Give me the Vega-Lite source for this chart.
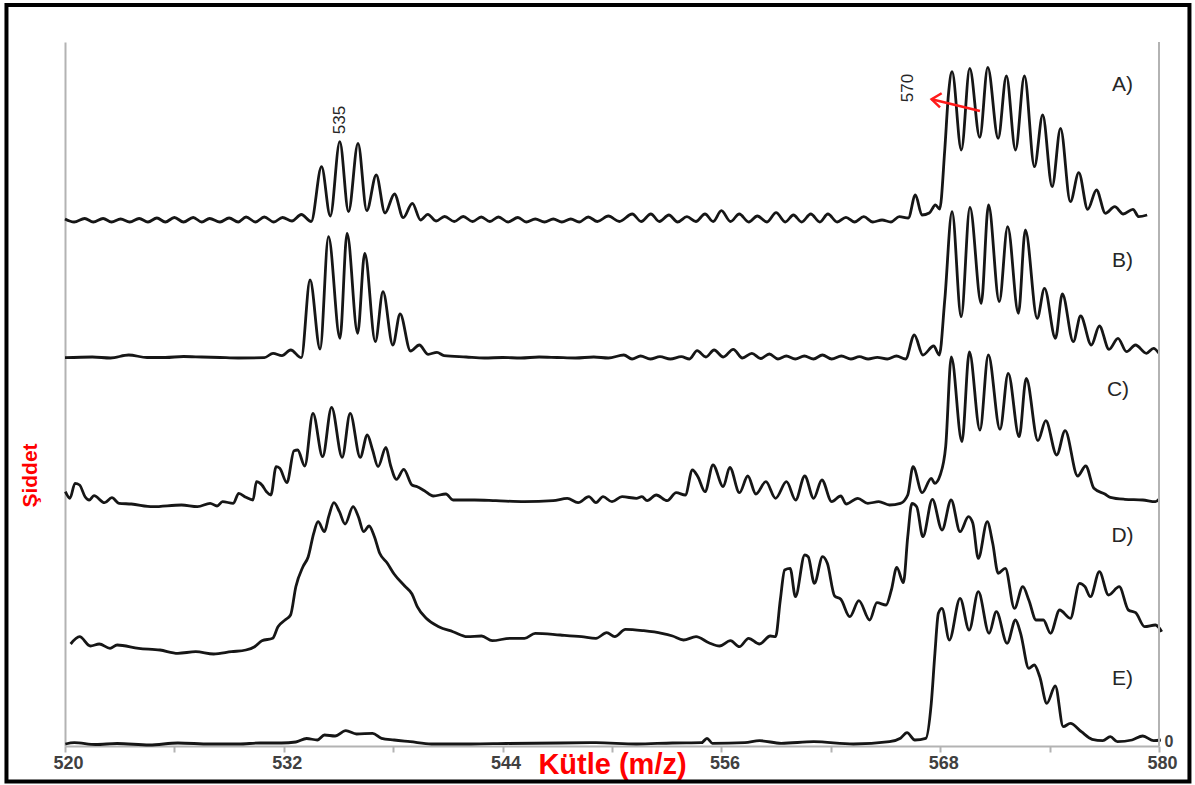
{
"$schema": "https://vega.github.io/schema/vega-lite/v6.json",
"width": 1094, "height": 704,
"autosize": {"type": "none"},
"padding": {"left": 65, "top": 42, "right": 36, "bottom": 39},
"background": "white",
"config": {"view": {"stroke": null}, "font": "Liberation Sans"},
"datasets": {
"spectra": [
{"s":"A","x":520.0,"y":527},{"s":"A","x":520.5,"y":524},{"s":"A","x":521.08,"y":527.5},{"s":"A","x":521.55,"y":524},{"s":"A","x":522.09,"y":527.5},{"s":"A","x":522.55,"y":524},{"s":"A","x":523.05,"y":527},{"s":"A","x":523.55,"y":524},{"s":"A","x":524.07,"y":527.5},{"s":"A","x":524.55,"y":524},{"s":"A","x":525.04,"y":528},{"s":"A","x":525.5,"y":524},{"s":"A","x":526.0,"y":528.5},{"s":"A","x":526.5,"y":524},{"s":"A","x":527.03,"y":528.5},{"s":"A","x":527.5,"y":524},{"s":"A","x":527.93,"y":527.5},{"s":"A","x":528.5,"y":524},{"s":"A","x":529.0,"y":528},{"s":"A","x":529.5,"y":524},{"s":"A","x":529.93,"y":529},{"s":"A","x":530.45,"y":524},{"s":"A","x":530.93,"y":529},{"s":"A","x":531.45,"y":524},{"s":"A","x":531.93,"y":528.5},{"s":"A","x":532.45,"y":525},{"s":"A","x":532.96,"y":531.5},{"s":"A","x":533.5,"y":524.5},{"s":"A","x":534.07,"y":579.3},{"s":"A","x":534.55,"y":530},{"s":"A","x":535.07,"y":604.3},{"s":"A","x":535.55,"y":534.3},{"s":"A","x":536.07,"y":602.7},{"s":"A","x":536.55,"y":535.3},{"s":"A","x":537.07,"y":571},{"s":"A","x":537.55,"y":533},{"s":"A","x":538.07,"y":552},{"s":"A","x":538.55,"y":528.3},{"s":"A","x":539.05,"y":542.7},{"s":"A","x":539.5,"y":526},{"s":"A","x":539.9,"y":531.7},{"s":"A","x":540.35,"y":525},{"s":"A","x":540.82,"y":529.5},{"s":"A","x":541.35,"y":524.5},{"s":"A","x":541.84,"y":529.5},{"s":"A","x":542.35,"y":524.5},{"s":"A","x":542.83,"y":529},{"s":"A","x":543.3,"y":524.5},{"s":"A","x":543.77,"y":529},{"s":"A","x":544.3,"y":524},{"s":"A","x":544.84,"y":528.5},{"s":"A","x":545.3,"y":524},{"s":"A","x":545.79,"y":527},{"s":"A","x":546.3,"y":524},{"s":"A","x":546.78,"y":527},{"s":"A","x":547.25,"y":524},{"s":"A","x":547.74,"y":527},{"s":"A","x":548.2,"y":524},{"s":"A","x":548.7,"y":529},{"s":"A","x":549.2,"y":524.5},{"s":"A","x":549.8,"y":530},{"s":"A","x":550.4,"y":524.5},{"s":"A","x":551.11,"y":532},{"s":"A","x":551.6,"y":524.5},{"s":"A","x":552.13,"y":532},{"s":"A","x":552.6,"y":524.5},{"s":"A","x":553.12,"y":531},{"s":"A","x":553.6,"y":524},{"s":"A","x":554.11,"y":529.3},{"s":"A","x":554.6,"y":524.5},{"s":"A","x":555.1,"y":532},{"s":"A","x":555.55,"y":524.5},{"s":"A","x":556.0,"y":535.3},{"s":"A","x":556.5,"y":524.5},{"s":"A","x":556.98,"y":532},{"s":"A","x":557.5,"y":524},{"s":"A","x":557.97,"y":530},{"s":"A","x":558.5,"y":524},{"s":"A","x":559.0,"y":533.3},{"s":"A","x":559.5,"y":524},{"s":"A","x":559.95,"y":531},{"s":"A","x":560.4,"y":524},{"s":"A","x":560.9,"y":532},{"s":"A","x":561.4,"y":524},{"s":"A","x":561.84,"y":532},{"s":"A","x":562.35,"y":524},{"s":"A","x":562.83,"y":528.7},{"s":"A","x":563.3,"y":524},{"s":"A","x":563.81,"y":529.3},{"s":"A","x":564.3,"y":524},{"s":"A","x":564.81,"y":526},{"s":"A","x":565.3,"y":524},{"s":"A","x":565.76,"y":529.3},{"s":"A","x":566.25,"y":528},{"s":"A","x":566.64,"y":551},{"s":"A","x":567.0,"y":531},{"s":"A","x":567.4,"y":533},{"s":"A","x":567.74,"y":541},{"s":"A","x":567.97,"y":537},{"s":"A","x":568.25,"y":596},{"s":"A","x":568.45,"y":651},{"s":"A","x":568.65,"y":674.3},{"s":"A","x":569.16,"y":596},{"s":"A","x":569.62,"y":677.7},{"s":"A","x":570.17,"y":608.7},{"s":"A","x":570.61,"y":678.7},{"s":"A","x":571.18,"y":607.7},{"s":"A","x":571.63,"y":670},{"s":"A","x":572.13,"y":596},{"s":"A","x":572.62,"y":670},{"s":"A","x":573.17,"y":579.3},{"s":"A","x":573.62,"y":631},{"s":"A","x":574.14,"y":559.3},{"s":"A","x":574.6,"y":617.7},{"s":"A","x":575.14,"y":544.3},{"s":"A","x":575.6,"y":573.3},{"s":"A","x":576.09,"y":536.7},{"s":"A","x":576.57,"y":556},{"s":"A","x":577.06,"y":532.7},{"s":"A","x":577.57,"y":539.3},{"s":"A","x":578.04,"y":532},{"s":"A","x":578.57,"y":536.7},{"s":"A","x":578.89,"y":529.3},{"s":"A","x":579.35,"y":531},
{"s":"B","x":520.0,"y":388.3},{"s":"B","x":521.5,"y":389},{"s":"B","x":522.5,"y":388},{"s":"B","x":523.49,"y":391},{"s":"B","x":524.5,"y":388.5},{"s":"B","x":525.5,"y":388.5},{"s":"B","x":526.5,"y":389.5},{"s":"B","x":527.5,"y":389},{"s":"B","x":528.5,"y":388.5},{"s":"B","x":529.5,"y":388},{"s":"B","x":530.93,"y":388.3},{"s":"B","x":531.41,"y":392.7},{"s":"B","x":531.9,"y":390.3},{"s":"B","x":532.38,"y":396},{"s":"B","x":532.96,"y":388.3},{"s":"B","x":533.44,"y":466},{"s":"B","x":533.99,"y":397},{"s":"B","x":534.45,"y":509.3},{"s":"B","x":535.08,"y":407.7},{"s":"B","x":535.47,"y":512.7},{"s":"B","x":536.05,"y":412.7},{"s":"B","x":536.44,"y":492.7},{"s":"B","x":537.02,"y":404.3},{"s":"B","x":537.44,"y":454.3},{"s":"B","x":537.98,"y":401},{"s":"B","x":538.38,"y":432},{"s":"B","x":538.95,"y":395},{"s":"B","x":539.43,"y":401},{"s":"B","x":539.92,"y":391.7},{"s":"B","x":540.4,"y":393.7},{"s":"B","x":540.79,"y":390.3},{"s":"B","x":542.0,"y":389},{"s":"B","x":543.0,"y":388},{"s":"B","x":544.0,"y":388.5},{"s":"B","x":545.0,"y":388},{"s":"B","x":546.0,"y":389},{"s":"B","x":547.0,"y":388.5},{"s":"B","x":548.0,"y":388},{"s":"B","x":549.0,"y":389},{"s":"B","x":549.8,"y":388},{"s":"B","x":550.65,"y":391},{"s":"B","x":551.1,"y":387},{"s":"B","x":551.57,"y":390},{"s":"B","x":552.1,"y":387},{"s":"B","x":552.63,"y":389.3},{"s":"B","x":553.2,"y":387},{"s":"B","x":553.8,"y":389.3},{"s":"B","x":554.25,"y":387},{"s":"B","x":554.67,"y":395.3},{"s":"B","x":555.15,"y":389},{"s":"B","x":555.6,"y":396},{"s":"B","x":556.1,"y":389},{"s":"B","x":556.65,"y":396.7},{"s":"B","x":557.15,"y":388},{"s":"B","x":557.67,"y":392.7},{"s":"B","x":558.15,"y":387.5},{"s":"B","x":558.63,"y":392},{"s":"B","x":559.1,"y":387},{"s":"B","x":559.56,"y":390},{"s":"B","x":560.05,"y":387},{"s":"B","x":560.55,"y":390},{"s":"B","x":561.05,"y":387},{"s":"B","x":561.54,"y":391},{"s":"B","x":562.05,"y":387},{"s":"B","x":562.58,"y":390},{"s":"B","x":563.1,"y":387},{"s":"B","x":563.57,"y":389.3},{"s":"B","x":564.05,"y":387},{"s":"B","x":564.55,"y":388.7},{"s":"B","x":565.1,"y":387},{"s":"B","x":565.6,"y":390},{"s":"B","x":566.1,"y":387},{"s":"B","x":566.58,"y":411},{"s":"B","x":567.05,"y":391},{"s":"B","x":567.64,"y":400},{"s":"B","x":567.95,"y":391},{"s":"B","x":568.25,"y":446},{"s":"B","x":568.65,"y":534.3},{"s":"B","x":569.15,"y":429.3},{"s":"B","x":569.63,"y":538.7},{"s":"B","x":570.25,"y":442.7},{"s":"B","x":570.65,"y":541},{"s":"B","x":571.24,"y":444.3},{"s":"B","x":571.7,"y":519.3},{"s":"B","x":572.29,"y":432.7},{"s":"B","x":572.67,"y":516},{"s":"B","x":573.32,"y":427.7},{"s":"B","x":573.72,"y":457.7},{"s":"B","x":574.32,"y":407.7},{"s":"B","x":574.7,"y":452},{"s":"B","x":575.3,"y":404.3},{"s":"B","x":575.7,"y":430},{"s":"B","x":576.29,"y":401},{"s":"B","x":576.73,"y":420},{"s":"B","x":577.26,"y":396.7},{"s":"B","x":577.75,"y":407.7},{"s":"B","x":578.22,"y":394.3},{"s":"B","x":578.71,"y":401},{"s":"B","x":579.31,"y":392.7},{"s":"B","x":579.7,"y":397.7},{"s":"B","x":580.0,"y":392.7},
{"s":"C","x":520.02,"y":254.3},{"s":"C","x":520.27,"y":247.7},{"s":"C","x":520.55,"y":262.7},{"s":"C","x":520.8,"y":261},{"s":"C","x":521.1,"y":249.3},{"s":"C","x":521.33,"y":246},{"s":"C","x":521.59,"y":250.3},{"s":"C","x":522.17,"y":243.3},{"s":"C","x":522.57,"y":248.3},{"s":"C","x":522.96,"y":242.7},{"s":"C","x":523.64,"y":242},{"s":"C","x":524.82,"y":239.3},{"s":"C","x":526.39,"y":241},{"s":"C","x":527.27,"y":239.3},{"s":"C","x":527.96,"y":242.7},{"s":"C","x":528.34,"y":240},{"s":"C","x":528.64,"y":244.3},{"s":"C","x":529.23,"y":242.7},{"s":"C","x":529.53,"y":252.7},{"s":"C","x":529.92,"y":248.7},{"s":"C","x":530.31,"y":246},{"s":"C","x":530.5,"y":264.3},{"s":"C","x":530.8,"y":261},{"s":"C","x":531.05,"y":254.3},{"s":"C","x":531.29,"y":251},{"s":"C","x":531.58,"y":279.3},{"s":"C","x":531.78,"y":277.7},{"s":"C","x":532.17,"y":263.3},{"s":"C","x":532.56,"y":295.3},{"s":"C","x":532.76,"y":296},{"s":"C","x":533.15,"y":280},{"s":"C","x":533.6,"y":332.7},{"s":"C","x":534.13,"y":289.3},{"s":"C","x":534.62,"y":338.7},{"s":"C","x":535.2,"y":288.7},{"s":"C","x":535.64,"y":332.7},{"s":"C","x":536.19,"y":288.7},{"s":"C","x":536.58,"y":311},{"s":"C","x":536.87,"y":296},{"s":"C","x":537.17,"y":279.3},{"s":"C","x":537.6,"y":298.7},{"s":"C","x":537.85,"y":281},{"s":"C","x":538.18,"y":266.7},{"s":"C","x":538.58,"y":276.7},{"s":"C","x":539.03,"y":261},{"s":"C","x":539.32,"y":259.3},{"s":"C","x":539.71,"y":255.3},{"s":"C","x":540.2,"y":250},{"s":"C","x":540.89,"y":252},{"s":"C","x":541.28,"y":246},{"s":"C","x":542.46,"y":246},{"s":"C","x":543.63,"y":245.3},{"s":"C","x":545.2,"y":244.3},{"s":"C","x":546.77,"y":245.3},{"s":"C","x":547.55,"y":247.7},{"s":"C","x":548.14,"y":243.3},{"s":"C","x":548.73,"y":249.3},{"s":"C","x":549.12,"y":243.3},{"s":"C","x":549.51,"y":249.3},{"s":"C","x":550.0,"y":244.3},{"s":"C","x":550.55,"y":249.3},{"s":"C","x":551.34,"y":247.7},{"s":"C","x":551.64,"y":249.3},{"s":"C","x":551.93,"y":245.3},{"s":"C","x":552.43,"y":251},{"s":"C","x":553.03,"y":245.3},{"s":"C","x":553.52,"y":253.3},{"s":"C","x":554.02,"y":251},{"s":"C","x":554.41,"y":276},{"s":"C","x":554.71,"y":269.3},{"s":"C","x":555.1,"y":254.3},{"s":"C","x":555.54,"y":281},{"s":"C","x":556.1,"y":259.3},{"s":"C","x":556.46,"y":278.7},{"s":"C","x":556.99,"y":253.3},{"s":"C","x":557.45,"y":270},{"s":"C","x":557.89,"y":252},{"s":"C","x":558.44,"y":264.3},{"s":"C","x":558.97,"y":247.7},{"s":"C","x":559.57,"y":264.3},{"s":"C","x":560.07,"y":246},{"s":"C","x":560.57,"y":270},{"s":"C","x":561.06,"y":247.7},{"s":"C","x":561.51,"y":266},{"s":"C","x":562.05,"y":244.3},{"s":"C","x":562.55,"y":250},{"s":"C","x":562.84,"y":242},{"s":"C","x":563.48,"y":247.7},{"s":"C","x":564.03,"y":242.7},{"s":"C","x":564.63,"y":244.3},{"s":"C","x":565.22,"y":241},{"s":"C","x":565.82,"y":242.7},{"s":"C","x":566.22,"y":251},{"s":"C","x":566.51,"y":279.3},{"s":"C","x":567.01,"y":253.3},{"s":"C","x":567.51,"y":267.7},{"s":"C","x":567.7,"y":262.7},{"s":"C","x":568.0,"y":271},{"s":"C","x":568.3,"y":299.3},{"s":"C","x":568.61,"y":389},{"s":"C","x":569.19,"y":304.3},{"s":"C","x":569.6,"y":394},{"s":"C","x":570.18,"y":316},{"s":"C","x":570.64,"y":391},{"s":"C","x":571.28,"y":316.7},{"s":"C","x":571.73,"y":372.7},{"s":"C","x":572.33,"y":309.3},{"s":"C","x":572.72,"y":367.7},{"s":"C","x":573.36,"y":305.3},{"s":"C","x":573.79,"y":325.3},{"s":"C","x":574.39,"y":291},{"s":"C","x":574.85,"y":315.3},{"s":"C","x":575.54,"y":270},{"s":"C","x":575.98,"y":280},{"s":"C","x":576.43,"y":257.7},{"s":"C","x":577.03,"y":252},{"s":"C","x":577.33,"y":248.7},{"s":"C","x":578.12,"y":246.7},{"s":"C","x":579.11,"y":246},{"s":"C","x":579.81,"y":244.3},{"s":"C","x":580.0,"y":246.7},
{"s":"D","x":520.31,"y":102},{"s":"D","x":520.8,"y":109.3},{"s":"D","x":521.39,"y":100},{"s":"D","x":521.88,"y":102},{"s":"D","x":522.47,"y":97.7},{"s":"D","x":522.86,"y":101},{"s":"D","x":524.04,"y":97.7},{"s":"D","x":525.21,"y":96},{"s":"D","x":526.19,"y":92.7},{"s":"D","x":527.17,"y":94.3},{"s":"D","x":528.15,"y":92},{"s":"D","x":529.13,"y":94.3},{"s":"D","x":529.92,"y":96},{"s":"D","x":530.4,"y":99.3},{"s":"D","x":530.8,"y":105.3},{"s":"D","x":531.39,"y":107.7},{"s":"D","x":531.68,"y":119.3},{"s":"D","x":532.07,"y":126},{"s":"D","x":532.37,"y":131},{"s":"D","x":532.66,"y":159.3},{"s":"D","x":533.05,"y":179.3},{"s":"D","x":533.34,"y":189.3},{"s":"D","x":533.64,"y":212.7},{"s":"D","x":533.88,"y":224.3},{"s":"D","x":534.23,"y":214.3},{"s":"D","x":534.46,"y":229.3},{"s":"D","x":534.75,"y":243.3},{"s":"D","x":535.05,"y":234.3},{"s":"D","x":535.36,"y":222},{"s":"D","x":535.8,"y":239.3},{"s":"D","x":536.09,"y":229.3},{"s":"D","x":536.38,"y":214.3},{"s":"D","x":536.68,"y":220},{"s":"D","x":536.97,"y":209.3},{"s":"D","x":537.26,"y":192.7},{"s":"D","x":537.66,"y":183.3},{"s":"D","x":538.05,"y":172},{"s":"D","x":538.63,"y":160},{"s":"D","x":539.03,"y":152},{"s":"D","x":539.32,"y":139.3},{"s":"D","x":539.81,"y":127.7},{"s":"D","x":540.5,"y":119.3},{"s":"D","x":541.28,"y":114.3},{"s":"D","x":542.06,"y":109.3},{"s":"D","x":542.85,"y":110},{"s":"D","x":543.43,"y":105.3},{"s":"D","x":544.42,"y":107.7},{"s":"D","x":545.2,"y":107.7},{"s":"D","x":545.79,"y":112.7},{"s":"D","x":547.16,"y":111},{"s":"D","x":548.33,"y":109.3},{"s":"D","x":549.12,"y":107.7},{"s":"D","x":549.71,"y":113.3},{"s":"D","x":550.15,"y":109.3},{"s":"D","x":550.74,"y":116.7},{"s":"D","x":551.74,"y":115.3},{"s":"D","x":552.73,"y":112.7},{"s":"D","x":553.32,"y":110},{"s":"D","x":553.92,"y":106},{"s":"D","x":554.61,"y":109.3},{"s":"D","x":555.31,"y":103.3},{"s":"D","x":555.9,"y":100},{"s":"D","x":556.5,"y":105.3},{"s":"D","x":556.99,"y":99.3},{"s":"D","x":557.49,"y":107.7},{"s":"D","x":558.09,"y":102},{"s":"D","x":558.68,"y":110},{"s":"D","x":558.97,"y":109.3},{"s":"D","x":559.23,"y":146},{"s":"D","x":559.47,"y":176},{"s":"D","x":559.77,"y":177.7},{"s":"D","x":560.06,"y":149.3},{"s":"D","x":560.57,"y":191},{"s":"D","x":560.76,"y":189.3},{"s":"D","x":561.1,"y":162.7},{"s":"D","x":561.55,"y":189.3},{"s":"D","x":561.81,"y":182.7},{"s":"D","x":562.21,"y":150},{"s":"D","x":562.55,"y":146.7},{"s":"D","x":563.04,"y":129.3},{"s":"D","x":563.54,"y":145.3},{"s":"D","x":564.13,"y":126},{"s":"D","x":564.53,"y":143.3},{"s":"D","x":565.03,"y":141},{"s":"D","x":565.32,"y":156},{"s":"D","x":565.62,"y":178.7},{"s":"D","x":565.98,"y":163.3},{"s":"D","x":566.22,"y":209.3},{"s":"D","x":566.45,"y":242.7},{"s":"D","x":566.71,"y":239.3},{"s":"D","x":567.05,"y":209.3},{"s":"D","x":567.57,"y":246.7},{"s":"D","x":568.1,"y":216},{"s":"D","x":568.6,"y":246},{"s":"D","x":569.09,"y":214.3},{"s":"D","x":569.55,"y":229.3},{"s":"D","x":569.79,"y":222.7},{"s":"D","x":570.09,"y":187.7},{"s":"D","x":570.58,"y":224.3},{"s":"D","x":570.88,"y":202.7},{"s":"D","x":571.18,"y":172.7},{"s":"D","x":571.57,"y":177.7},{"s":"D","x":572.07,"y":137.7},{"s":"D","x":572.53,"y":159.3},{"s":"D","x":572.86,"y":146},{"s":"D","x":573.26,"y":126},{"s":"D","x":573.66,"y":126},{"s":"D","x":574.05,"y":112.7},{"s":"D","x":574.55,"y":136},{"s":"D","x":575.14,"y":127.7},{"s":"D","x":575.64,"y":162.7},{"s":"D","x":575.94,"y":159.3},{"s":"D","x":576.24,"y":149.3},{"s":"D","x":576.73,"y":174.3},{"s":"D","x":577.23,"y":151},{"s":"D","x":577.82,"y":159.3},{"s":"D","x":578.32,"y":136},{"s":"D","x":578.72,"y":133.3},{"s":"D","x":579.21,"y":119.3},{"s":"D","x":579.81,"y":121},{"s":"D","x":580.15,"y":114.3},
{"s":"E","x":520.02,"y":2},{"s":"E","x":520.51,"y":3.3},{"s":"E","x":521.68,"y":1.5},{"s":"E","x":522.86,"y":2.5},{"s":"E","x":524.63,"y":1},{"s":"E","x":526.19,"y":3},{"s":"E","x":527.96,"y":2},{"s":"E","x":529.53,"y":2},{"s":"E","x":530.7,"y":3},{"s":"E","x":531.87,"y":3},{"s":"E","x":532.66,"y":4},{"s":"E","x":533.25,"y":7.5},{"s":"E","x":533.84,"y":6},{"s":"E","x":534.23,"y":11},{"s":"E","x":534.81,"y":10},{"s":"E","x":535.4,"y":15.3},{"s":"E","x":535.99,"y":12},{"s":"E","x":536.87,"y":12.7},{"s":"E","x":537.36,"y":7.7},{"s":"E","x":538.05,"y":6},{"s":"E","x":538.93,"y":4.3},{"s":"E","x":540.1,"y":2},{"s":"E","x":542.26,"y":2},{"s":"E","x":544.22,"y":2.5},{"s":"E","x":547.16,"y":3},{"s":"E","x":549.12,"y":3.3},{"s":"E","x":551.34,"y":2},{"s":"E","x":553.32,"y":3},{"s":"E","x":554.91,"y":3.3},{"s":"E","x":555.21,"y":7.7},{"s":"E","x":555.51,"y":2.7},{"s":"E","x":557.29,"y":3.3},{"s":"E","x":558.09,"y":5.3},{"s":"E","x":559.28,"y":2.7},{"s":"E","x":561.06,"y":4.3},{"s":"E","x":563.24,"y":2},{"s":"E","x":565.22,"y":4.3},{"s":"E","x":565.82,"y":7.7},{"s":"E","x":566.18,"y":13.3},{"s":"E","x":566.61,"y":6},{"s":"E","x":567.21,"y":7.7},{"s":"E","x":567.51,"y":42.7},{"s":"E","x":567.71,"y":92.7},{"s":"E","x":567.9,"y":132.7},{"s":"E","x":568.1,"y":137.7},{"s":"E","x":568.5,"y":106},{"s":"E","x":569.09,"y":147.7},{"s":"E","x":569.59,"y":116},{"s":"E","x":570.09,"y":154.3},{"s":"E","x":570.68,"y":112.7},{"s":"E","x":571.08,"y":134.3},{"s":"E","x":571.67,"y":102.7},{"s":"E","x":572.13,"y":126},{"s":"E","x":572.41,"y":112.7},{"s":"E","x":572.86,"y":77.7},{"s":"E","x":573.16,"y":81},{"s":"E","x":573.46,"y":69.3},{"s":"E","x":573.85,"y":42.7},{"s":"E","x":574.31,"y":60},{"s":"E","x":574.75,"y":19.3},{"s":"E","x":575.14,"y":22.7},{"s":"E","x":575.74,"y":14.3},{"s":"E","x":576.33,"y":6.7},{"s":"E","x":576.92,"y":5.3},{"s":"E","x":577.33,"y":9.3},{"s":"E","x":577.72,"y":4.3},{"s":"E","x":578.52,"y":6},{"s":"E","x":579.11,"y":10},{"s":"E","x":579.71,"y":5.3},{"s":"E","x":580.1,"y":6}
],
"labels": [
{"t":"A)","x":578.0,"y":661},{"t":"B)","x":578.0,"y":485},{"t":"C)","x":577.75,"y":356},{"t":"D)","x":578.0,"y":210},{"t":"E)","x":578.0,"y":67}
],
"notes": [
{"t":"535","x":535.08,"y":626},{"t":"570","x":566.23,"y":658}
],
"arrow": [
{"seg":"shaft","o":1,"x":570.18,"y":635},{"seg":"shaft","o":2,"x":567.53,"y":646.7},
{"seg":"head","o":1,"x":568.08,"y":652.7},{"seg":"head","o":2,"x":567.53,"y":646.7},{"seg":"head","o":3,"x":567.99,"y":638.7}
],
"one": [{"k": 1}]
},
"layer": [
{
"data": {"name": "spectra"},
"mark": {"type": "line", "interpolate": "monotone", "color": "#161616", "strokeWidth": 2.8},
"encoding": {
"x": {"field": "x", "type": "quantitative",
"scale": {"domain": [520, 580], "nice": false, "zero": false},
"axis": {"values": [520,526,532,538,544,550,556,562,568,574,580], "labelExpr": "datum.value % 12 == 4 ? datum.label : ''", "format": "d", "grid": false, "domainColor": "#b3b3b3", "domainWidth": 2, "tickColor": "#b3b3b3", "tickWidth": 2, "tickSize": 6, "labelFont": "Liberation Sans", "labelFontSize": 18, "labelFontWeight": "bold", "labelColor": "#404040", "labelPadding": 2, "labelFlush": false, "labelOverlap": false, "labelOffset": 3,
"title": "Kütle (m/z)", "titleColor": "#ff0000", "titleFont": "Liberation Sans", "titleFontSize": 29, "titleFontWeight": "bold", "titleX": 547, "titleY": 18, "titleAlign": "center", "titleBaseline": "middle"}},
"y": {"field": "y", "type": "quantitative",
"scale": {"domain": [0, 704], "nice": false, "zero": false},
"axis": {"grid": false, "ticks": false, "labels": false, "domainColor": "#b3b3b3", "domainWidth": 2,
"title": "Şiddet", "titleColor": "#ff0000", "titleFont": "Liberation Sans", "titleFontSize": 21, "titleFontWeight": "bold", "titleAngle": 270, "titleX": -35, "titleY": 433, "titleAlign": "center", "titleBaseline": "middle"}},
"detail": {"field": "s"}
}
},
{
"data": {"name": "one"},
"mark": {"type": "rect", "fill": "transparent", "stroke": "#000000", "strokeWidth": 4},
"encoding": {"x": {"datum": 516.79}, "x2": {"datum": 581.67}, "y": {"datum": 741}, "y2": {"datum": -35.5}}
},
{
"data": {"name": "one"},
"mark": {"type": "rule", "color": "#b3b3b3", "strokeWidth": 2},
"encoding": {"x": {"datum": 580}, "y": {"datum": 0}, "y2": {"datum": 704}}
},
{
"data": {"name": "labels"},
"mark": {"type": "text", "font": "Liberation Sans", "fontSize": 21, "color": "#262626", "align": "center", "baseline": "middle"},
"encoding": {"x": {"field": "x", "type": "quantitative"}, "y": {"field": "y", "type": "quantitative"}, "text": {"field": "t"}}
},
{
"data": {"name": "notes"},
"mark": {"type": "text", "font": "Liberation Sans", "fontSize": 17, "color": "#262626", "align": "center", "baseline": "middle", "angle": 270},
"encoding": {"x": {"field": "x", "type": "quantitative"}, "y": {"field": "y", "type": "quantitative"}, "text": {"field": "t"}}
},
{
"data": {"name": "arrow"},
"mark": {"type": "line", "color": "#ff1a1a", "strokeWidth": 2.5},
"encoding": {"x": {"field": "x", "type": "quantitative"}, "y": {"field": "y", "type": "quantitative"}, "detail": {"field": "seg"}, "order": {"field": "o"}}
},
{
"data": {"name": "one"},
"mark": {"type": "text", "text": "0", "font": "Liberation Sans", "fontSize": 16, "fontWeight": "bold", "color": "#404040", "align": "left", "baseline": "middle"},
"encoding": {"x": {"datum": 580.3}, "y": {"datum": 4}}
}
]
}
